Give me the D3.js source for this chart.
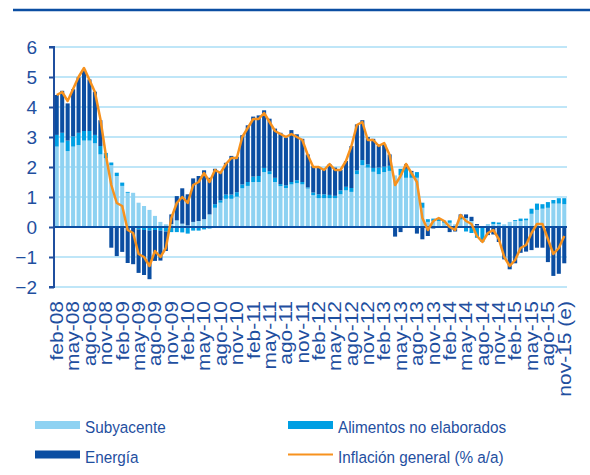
<!DOCTYPE html>
<html><head><meta charset="utf-8">
<script src="https://cdn.jsdelivr.net/npm/d3@7"></script>
<style>body{margin:0;background:#fff}svg{display:block}text{font-family:"Liberation Sans",Arial,sans-serif}</style>
</head><body><svg id="c" width="590" height="475"></svg>
<script>
const months = ["feb-08","mar-08","abr-08","may-08","jun-08","jul-08","ago-08","sep-08","oct-08","nov-08","dic-08",
"ene-09","feb-09","mar-09","abr-09","may-09","jun-09","jul-09","ago-09","sep-09","oct-09","nov-09","dic-09",
"ene-10","feb-10","mar-10","abr-10","may-10","jun-10","jul-10","ago-10","sep-10","oct-10","nov-10","dic-10",
"ene-11","feb-11","mar-11","abr-11","may-11","jun-11","jul-11","ago-11","sep-11","oct-11","nov-11","dic-11",
"ene-12","feb-12","mar-12","abr-12","may-12","jun-12","jul-12","ago-12","sep-12","oct-12","nov-12","dic-12",
"ene-13","feb-13","mar-13","abr-13","may-13","jun-13","jul-13","ago-13","sep-13","oct-13","nov-13","dic-13",
"ene-14","feb-14","mar-14","abr-14","may-14","jun-14","jul-14","ago-14","sep-14","oct-14","nov-14","dic-14",
"ene-15","feb-15","mar-15","abr-15","may-15","jun-15","jul-15","ago-15","sep-15","oct-15","nov-15"];

const subyacente = [2.68,2.81,2.53,2.68,2.73,2.88,2.88,2.79,2.42,2.29,2.06,
1.70,1.37,1.14,1.14,0.81,0.70,0.57,0.37,0.17,0.09,0.10,0.22,
0.11,0.05,0.17,0.20,0.26,0.42,0.64,0.81,0.94,0.94,1.01,1.29,
1.37,1.50,1.50,1.83,1.76,1.50,1.36,1.30,1.42,1.46,1.42,1.28,
1.06,0.96,0.96,0.96,0.96,1.09,1.22,1.17,1.76,2.06,1.98,1.84,
1.76,1.83,1.87,1.72,1.72,1.64,1.64,1.64,0.64,0.17,0.20,0.20,
0.14,0.14,0.09,0.25,0.30,0.20,0.05,0.00,0.10,0.10,0.10,0.09,
0.17,0.20,0.20,0.22,0.44,0.57,0.61,0.64,0.78,0.78,0.76];

const alimentos = [0.39,0.33,0.35,0.34,0.41,0.32,0.32,0.28,0.28,0.18,0.09,
0.11,0.11,0.03,0.00,-0.08,-0.10,-0.12,-0.10,-0.12,-0.15,-0.17,-0.17,
-0.18,-0.22,-0.12,-0.12,-0.08,-0.05,0.12,0.08,0.14,0.14,0.15,0.13,
0.13,0.18,0.20,0.14,0.10,0.14,0.07,0.09,0.08,0.10,0.08,0.04,
0.09,0.13,0.13,0.11,0.08,0.13,0.12,0.13,0.13,0.17,0.11,0.13,
0.22,0.18,0.17,0.00,0.22,0.30,0.19,0.19,0.17,0.09,0.08,0.09,
0.05,0.08,-0.05,0.05,-0.15,-0.20,-0.36,-0.50,0.00,0.07,0.05,0.00,
0.00,0.03,0.08,0.06,0.17,0.21,0.15,0.19,0.12,0.18,0.20];

const energia = [1.33,1.40,1.24,1.57,1.85,2.06,1.72,1.44,0.86,0.00,-0.69,
-0.97,-0.83,-1.20,-1.24,-1.45,-1.50,-1.62,-1.03,-1.00,-0.65,0.32,0.81,
1.18,1.04,1.45,1.50,1.63,1.22,1.18,0.94,1.06,1.29,1.18,1.64,
1.89,2.00,2.02,1.92,1.75,1.64,1.71,1.59,1.73,1.53,1.44,1.10,
0.88,0.89,0.85,1.02,0.94,0.68,0.86,1.40,1.53,1.33,0.91,0.97,
0.72,0.75,0.38,-0.32,-0.17,0.15,0.04,-0.22,-0.41,-0.30,-0.05,0.00,
0.02,-0.17,-0.10,0.12,0.12,0.14,0.05,0.00,-0.27,-0.25,-0.50,-1.08,
-1.41,-1.21,-0.86,-0.82,-0.77,-0.69,-0.69,-1.17,-1.63,-1.56,-1.21];

const general = [4.4,4.5,4.2,4.6,5.0,5.3,4.9,4.5,3.6,2.4,1.4,
0.8,0.7,-0.1,-0.2,-0.9,-1.0,-1.3,-0.8,-1.0,-0.7,0.3,0.8,
1.0,0.8,1.4,1.5,1.8,1.5,1.9,1.8,2.1,2.3,2.3,3.0,
3.3,3.6,3.6,3.8,3.5,3.2,3.1,3.0,3.1,3.0,2.9,2.4,
2.0,2.0,1.9,2.1,1.9,1.9,2.2,2.7,3.4,3.5,2.9,2.9,
2.7,2.8,2.4,1.4,1.7,2.1,1.8,1.5,0.3,-0.1,0.2,0.3,
0.2,0.0,-0.1,0.4,0.2,0.1,-0.3,-0.5,-0.2,-0.1,-0.4,-1.0,
-1.3,-1.1,-0.7,-0.6,-0.2,0.1,0.1,-0.4,-0.9,-0.7,-0.3];

const tickLabels = ["feb-08","may-08","ago-08","nov-08","feb-09","may-09","ago-09","nov-09",
"feb-10","may-10","ago-10","nov-10","feb-11","may-11","ago-11","nov-11",
"feb-12","may-12","ago-12","nov-12","feb-13","may-13","ago-13","nov-13",
"feb-14","may-14","ago-14","nov-14","feb-15","may-15","ago-15","nov-15 (e)"];
const yTicks = [-2,-1,0,1,2,3,4,5,6];

const seriesNames = ["Subyacente","Alimentos no elaborados","Energía","Inflación general (% a/a)"];
const colors = {sub:"#8ed2f2", alim:"#009fe3", ener:"#0b4ea2", line:"#f7921e"};
const textColor = "#1f4f9f";

const svg = d3.select("#c");
const x = d3.scaleBand().domain(months).range([54, 567]).paddingInner(0.26).paddingOuter(0.13);
const y = d3.scaleLinear().domain([-2, 6]).range([287, 47]);

// top rule
svg.append("line").attr("x1",13).attr("x2",590).attr("y1",10).attr("y2",10)
  .attr("stroke","#0b4ea2").attr("stroke-width",2.5);

// gridlines
svg.append("g").selectAll("line").data(yTicks.filter(v=>v!==0)).join("line")
  .attr("x1",54).attr("x2",567).attr("y1",d=>y(d)).attr("y2",d=>y(d))
  .attr("stroke","#bfe6f8").attr("stroke-width",2);

const rows = months.map((m,i)=>({m, sub:subyacente[i], alim:alimentos[i], ener:energia[i], g:general[i]}));
const stack = d3.stack().keys(["sub","alim","ener"]).offset(d3.stackOffsetDiverging)(rows);

svg.append("g").selectAll("g").data(stack).join("g")
  .attr("fill", d=>colors[d.key])
  .selectAll("rect").data(d=>d).join("rect")
  .attr("x", d=>x(d.data.m)).attr("width", x.bandwidth())
  .attr("y", d=>y(Math.max(d[0],d[1])))
  .attr("height", d=>Math.abs(y(d[0])-y(d[1])));

// zero line
svg.append("line").attr("x1",54).attr("x2",567).attr("y1",y(0)).attr("y2",y(0))
  .attr("stroke","#0b4ea2").attr("stroke-width",2);

// y axis
const yAxis = d3.axisLeft(y).tickValues(yTicks).tickSize(5).tickPadding(12).tickFormat(d3.format("d"));
const ya = svg.append("g").attr("transform","translate(54,0)").call(yAxis);
ya.select(".domain").attr("stroke","#1f4f9f").attr("stroke-width",2).attr("d","M-5,"+y(6)+"H0V"+y(-2)+"H-5");
ya.selectAll(".tick line").attr("stroke","#1f4f9f").attr("stroke-width",2);
ya.selectAll(".tick text").attr("fill",textColor).attr("font-size",19).attr("font-family","Liberation Sans, Arial, sans-serif");
ya.selectAll(".tick text").filter(d=>d===0).remove();
ya.selectAll(".tick").filter(d=>d===0).append("text").attr("x",-17).attr("dy","0.32em")
  .attr("fill",textColor).attr("font-size",19).attr("text-anchor","end").text("0");

// line
const line = d3.line().x(d=>x(d.m)+x.bandwidth()/2).y(d=>y(d.g));
svg.append("path").datum(rows).attr("d",line).attr("fill","none")
  .attr("stroke",colors.line).attr("stroke-width",2.5).attr("stroke-linejoin","round");

// x labels
const tickMonths = months.filter((m,i)=>i%3===0);
svg.append("g").selectAll("text").data(tickMonths).join("text")
  .attr("transform",(d)=>`translate(${x(d)+x.bandwidth()/2},301) rotate(-90) scale(1.2,1)`)
  .attr("text-anchor","end").attr("dy","0.36em")
  .attr("font-size",17.5).attr("fill",textColor)
  .text((d,i)=>tickLabels[i]);

// legend
const leg = svg.append("g");
const items = [
  {name:seriesNames[0], type:"rect", c:colors.sub, x:35, y:421},
  {name:seriesNames[1], type:"rect", c:colors.alim, x:288, y:421},
  {name:seriesNames[2], type:"rect", c:colors.ener, x:35, y:450.5},
  {name:seriesNames[3], type:"line", c:colors.line, x:288, y:450.5}
];
items.forEach(it=>{
  if(it.type==="rect") leg.append("rect").attr("x",it.x).attr("y",it.y).attr("width",45).attr("height",8).attr("fill",it.c);
  else leg.append("line").attr("x1",it.x).attr("x2",it.x+45).attr("y1",it.y+4).attr("y2",it.y+4).attr("stroke",it.c).attr("stroke-width",2);
  leg.append("text").attr("transform",`translate(${it.x+50},${it.y+12}) scale(0.9,1)`)
    .attr("font-size",17).attr("fill",textColor).text(it.name);
});
</script></body></html>
